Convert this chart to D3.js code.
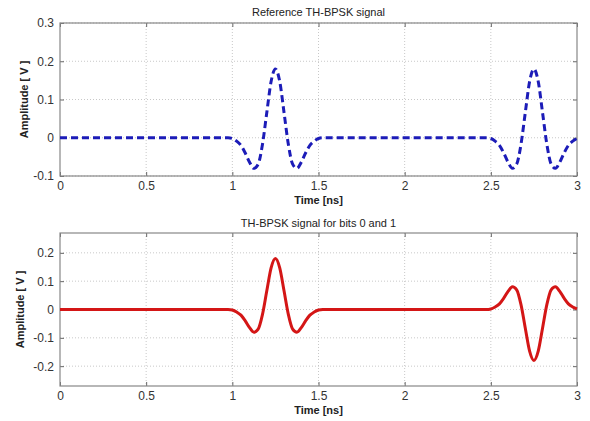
<!DOCTYPE html>
<html><head><meta charset="utf-8">
<script src="https://cdn.jsdelivr.net/npm/d3@7"></script>
<style>
body{margin:0;background:#fff;}
svg text{font-family:"Liberation Sans",Arial,sans-serif;}
</style></head>
<body><svg id="c" width="590" height="421"></svg>
<script>
// ---- data ----
const xTicks = [0, 0.5, 1, 1.5, 2, 2.5, 3];
const xTickLabels = ["0", "0.5", "1", "1.5", "2", "2.5", "3"];
const topYTicks = [-0.1, 0, 0.1, 0.2, 0.3];
const topYTickLabels = ["-0.1", "0", "0.1", "0.2", "0.3"];
const botYTicks = [-0.2, -0.1, 0, 0.1, 0.2];
const botYTickLabels = ["-0.2", "-0.1", "0", "0.1", "0.2"];
const topTitle = "Reference TH-BPSK signal";
const botTitle = "TH-BPSK signal for bits 0 and 1";
const xLabel = "Time [ns]";
const yLabel = "Amplitude [ V ]";

const refTime = [0, 0.5, 0.975, 1.0, 1.025, 1.05, 1.075, 1.1, 1.125, 1.15, 1.175, 1.2, 1.225, 1.25, 1.275, 1.3, 1.325, 1.35, 1.375, 1.4, 1.425, 1.45, 1.475, 1.5, 1.525,
                 2.0, 2.475, 2.5, 2.525, 2.55, 2.575, 2.6, 2.625, 2.65, 2.675, 2.7, 2.725, 2.75, 2.775, 2.8, 2.825, 2.85, 2.875, 2.9, 2.925, 2.95, 2.975, 3.0];
const refAmp = [0, 0, 0, -0.002, -0.009, -0.020, -0.040, -0.064, -0.080, -0.069, -0.017, 0.066, 0.147, 0.180, 0.147, 0.066, -0.017, -0.069, -0.080, -0.064, -0.040, -0.020, -0.009, -0.002, 0,
                0, 0, -0.002, -0.009, -0.020, -0.040, -0.064, -0.080, -0.069, -0.017, 0.066, 0.147, 0.180, 0.147, 0.066, -0.017, -0.069, -0.080, -0.064, -0.040, -0.020, -0.009, -0.002];

const bitsTime = refTime;
const bitsAmp = [0, 0, 0, -0.002, -0.009, -0.020, -0.040, -0.064, -0.080, -0.069, -0.017, 0.066, 0.147, 0.180, 0.147, 0.066, -0.017, -0.069, -0.080, -0.064, -0.040, -0.020, -0.009, -0.002, 0,
                 0, 0, 0.002, 0.009, 0.020, 0.040, 0.064, 0.080, 0.069, 0.017, -0.066, -0.147, -0.180, -0.147, -0.066, 0.017, 0.069, 0.080, 0.064, 0.040, 0.020, 0.009, 0.002];

// ---- drawing ----
const svg = d3.select("#c");

function panel(cfg) {
  const {left, right, top, bottom, yDomain, yTicks, yTickLabels, title, titleY, xLabY, yLabX, times, amps, color, dash} = cfg;
  const x = d3.scaleLinear().domain([0, 3]).range([left, right]);
  const y = d3.scaleLinear().domain(yDomain).range([bottom, top]);
  const g = svg.append("g");

  // grid
  g.selectAll(".gx").data(xTicks.slice(1, -1)).join("line")
    .attr("x1", d => x(d)).attr("x2", d => x(d)).attr("y1", top).attr("y2", bottom)
    .attr("stroke", "#c8c8c8").attr("stroke-width", 1).attr("stroke-dasharray", "1,2");
  g.selectAll(".gy").data(yTicks).join("line")
    .attr("x1", left).attr("x2", right).attr("y1", d => y(d)).attr("y2", d => y(d))
    .attr("stroke", "#c8c8c8").attr("stroke-width", 1).attr("stroke-dasharray", "1,2");

  // axes (ticks inward)
  const xa = d3.axisBottom(x).tickValues(xTicks).tickFormat((d, i) => xTickLabels[i]).tickSizeInner(-4).tickSizeOuter(0).tickPadding(5);
  const ya = d3.axisLeft(y).tickValues(yTicks).tickFormat((d, i) => yTickLabels[i]).tickSizeInner(-4).tickSizeOuter(0).tickPadding(6);
  const gx = g.append("g").attr("transform", `translate(0,${bottom})`).call(xa);
  const gy = g.append("g").attr("transform", `translate(${left},0)`).call(ya);
  const xa2 = d3.axisTop(x).tickValues(xTicks).tickFormat("").tickSizeInner(-4).tickSizeOuter(0);
  const ya2 = d3.axisRight(y).tickValues(yTicks).tickFormat("").tickSizeInner(-4).tickSizeOuter(0);
  const gx2 = g.append("g").attr("transform", `translate(0,${top})`).call(xa2);
  const gy2 = g.append("g").attr("transform", `translate(${right},0)`).call(ya2);
  [gx, gy, gx2, gy2].forEach(a => {
    a.select(".domain").remove();
    a.selectAll("line").attr("stroke", "#666");
    a.selectAll("text").attr("font-size", 12).attr("fill", "#333");
  });
  g.append("rect").attr("x", left).attr("y", top).attr("width", right - left).attr("height", bottom - top)
    .attr("fill", "none").attr("stroke", "#888").attr("stroke-width", 1.2);

  // line
  const line = d3.line().x((d, i) => x(times[i])).y(d => y(d)).curve(d3.curveMonotoneX);
  const p = g.append("path").datum(amps).attr("d", line).attr("fill", "none")
    .attr("stroke", color).attr("stroke-width", 3).attr("stroke-linejoin", "round");
  if (dash) p.attr("stroke-dasharray", dash);

  // labels
  g.append("text").attr("x", (left + right) / 2).attr("y", titleY).attr("text-anchor", "middle")
    .attr("font-size", 11).attr("fill", "#222").text(title);
  g.append("text").attr("x", (left + right) / 2).attr("y", xLabY).attr("text-anchor", "middle")
    .attr("font-size", 11).attr("font-weight", "bold").attr("fill", "#222").text(xLabel);
  g.append("text").attr("transform", `translate(${yLabX},${(top + bottom) / 2}) rotate(-90)`)
    .attr("text-anchor", "middle").attr("font-size", 11).attr("font-weight", "bold").attr("fill", "#222").text(yLabel);
}

panel({left: 60, right: 577, top: 23, bottom: 176, yDomain: [-0.1, 0.3], yTicks: topYTicks, yTickLabels: topYTickLabels,
  title: topTitle, titleY: 16, xLabY: 204, yLabX: 28, times: refTime, amps: refAmp, color: "#1c1cb8", dash: "7,4"});
panel({left: 60, right: 577, top: 233, bottom: 386, yDomain: [-0.27, 0.27], yTicks: botYTicks, yTickLabels: botYTickLabels,
  title: botTitle, titleY: 227, xLabY: 414, yLabX: 24, times: bitsTime, amps: bitsAmp, color: "#d41616", dash: null});
</script></body></html>
